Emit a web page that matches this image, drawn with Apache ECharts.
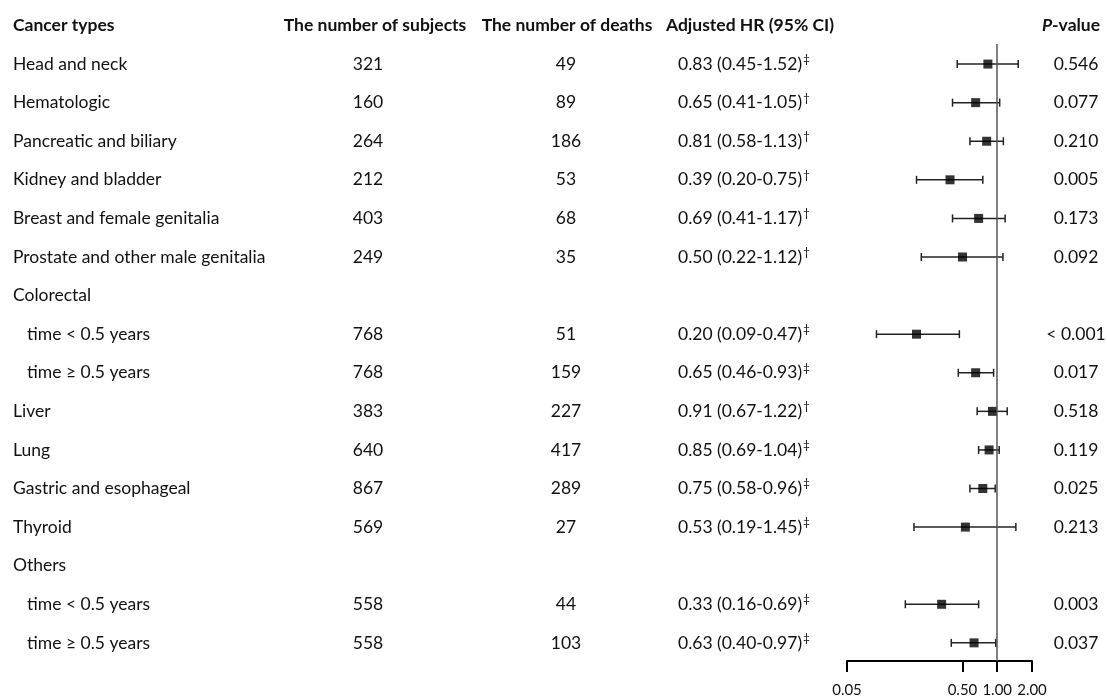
<!DOCTYPE html>
<html>
<head>
<meta charset="utf-8">
<script src="https://cdn.jsdelivr.net/npm/echarts@6/dist/echarts.min.js"></script>
<style>
  html, body { margin: 0; padding: 0; background: #fff; }
  #forestChart { width: 1107px; height: 698px; }
</style>
</head>
<body>
<div id="forestChart"></div>
<script>
  // table data, one entry per row (header excluded)
  const cancerTypes = ['Head and neck', 'Hematologic', 'Pancreatic and biliary', 'Kidney and bladder',
    'Breast and female genitalia', 'Prostate and other male genitalia', 'Colorectal',
    'time < 0.5 years', 'time ≥ 0.5 years', 'Liver', 'Lung', 'Gastric and esophageal', 'Thyroid',
    'Others', 'time < 0.5 years', 'time ≥ 0.5 years']
  const subRow = [0, 0, 0, 0, 0, 0, 0, 1, 1, 0, 0, 0, 0, 0, 1, 1]
  const subjects = ['321', '160', '264', '212', '403', '249', '', '768', '768', '383', '640', '867', '569', '', '558', '558']
  const deaths = ['49', '89', '186', '53', '68', '35', '', '51', '159', '227', '417', '289', '27', '', '44', '103']
  const hr = [0.83, 0.65, 0.81, 0.39, 0.69, 0.50, null, 0.20, 0.65, 0.91, 0.85, 0.75, 0.53, null, 0.33, 0.63]
  const ciLow = [0.45, 0.41, 0.58, 0.20, 0.41, 0.22, null, 0.09, 0.46, 0.67, 0.69, 0.58, 0.19, null, 0.16, 0.40]
  const ciHigh = [1.52, 1.05, 1.13, 0.75, 1.17, 1.12, null, 0.47, 0.93, 1.22, 1.04, 0.96, 1.45, null, 0.69, 0.97]
  const marks = ['‡', '†', '†', '†', '†', '†', '', '‡', '‡', '†', '‡', '‡', '‡', '', '‡', '‡']
  const pValues = ['0.546', '0.077', '0.210', '0.005', '0.173', '0.092', '', '< 0.001', '0.017', '0.518', '0.119', '0.025', '0.213', '', '0.003', '0.037']
  const xTicks = [0.05, 0.5, 1, 2]

  const FAMILY = 'Lato, "Liberation Sans", sans-serif'

  let chart = echarts.init(document.getElementById('forestChart'))

  let points = []
  let bars = []
  hr.forEach((v, i) => {
    if (v == null) return
    points.push([v, i + 1])
    bars.push([ciLow[i], i + 1, ciHigh[i]])
  })

  function renderBar(params, api) {
    let y = api.coord([1, api.value(1)])[1]
    let x0 = api.coord([api.value(0), api.value(1)])[0]
    let x1 = api.coord([api.value(2), api.value(1)])[0]
    let cap = 4
    let style = { stroke: '#222', lineWidth: 1.5 }
    return {
      type: 'group',
      children: [
        { type: 'line', shape: { x1: x0, y1: y, x2: x1, y2: y }, style: style },
        { type: 'line', shape: { x1: x0, y1: y - cap, x2: x0, y2: y + cap }, style: style },
        { type: 'line', shape: { x1: x1, y1: y - cap, x2: x1, y2: y + cap }, style: style }
      ]
    }
  }

  chart.setOption({
    animation: false,
    grid: { left: 847, right: 75, top: 44, bottom: 37 },
    xAxis: {
      type: 'log',
      logBase: 10,
      min: 0.05,
      max: 2,
      axisLine: { show: true, onZero: false, lineStyle: { color: '#000', width: 2 } },
      axisTick: { show: true, customValues: xTicks, length: 11, lineStyle: { color: '#000', width: 2 } },
      axisLabel: {
        customValues: xTicks,
        formatter: v => Number(v).toFixed(2),
        margin: 22,
        fontSize: 15,
        color: '#111',
        fontFamily: FAMILY
      },
      splitLine: { show: false }
    },
    yAxis: { type: 'value', inverse: true, min: 0.48, max: 16.47, show: false },
    series: [
      {
        type: 'custom',
        renderItem: renderBar,
        data: bars,
        encode: { x: [0, 2], y: 1 },
        z: 2
      },
      {
        type: 'scatter',
        data: points,
        symbol: 'rect',
        symbolSize: 9,
        itemStyle: { color: '#000' },
        z: 3,
        markLine: {
          silent: true,
          symbol: 'none',
          label: { show: false },
          lineStyle: { color: '#555', width: 1.5, type: 'solid' },
          data: [{ xAxis: 1 }]
        }
      }
    ]
  })

  // table text, placed on the same row scale as the plot
  const rowY = r => chart.convertToPixel({ yAxisIndex: 0 }, r)
  const bold = 'bold 17.5px ' + FAMILY
  const normal = '17.5px ' + FAMILY

  function txt(x, y, text, font, align, rich) {
    let style = { text: text, font: font, fill: '#111', align: align, verticalAlign: 'middle' }
    if (rich) {
      style.rich = rich
      style.lineHeight = 22
    }
    return { type: 'text', x: x, y: y, silent: true, style: style }
  }

  let texts = []
  let hy = rowY(0)
  texts.push(txt(13, hy, 'Cancer types', bold, 'left'))
  texts.push(txt(375, hy, 'The number of subjects', bold, 'center'))
  texts.push(txt(567, hy, 'The number of deaths', bold, 'center'))
  texts.push(txt(750, hy, 'Adjusted HR (95% CI)', bold, 'center'))
  texts.push(txt(1071, hy, '{i|P}-value', bold, 'center', { i: { font: 'italic bold 17.5px ' + FAMILY, lineHeight: 22 } }))

  cancerTypes.forEach((name, i) => {
    let y = rowY(i + 1)
    texts.push(txt(subRow[i] ? 27 : 13, y, name, normal, 'left'))
    if (subjects[i]) texts.push(txt(368, y, subjects[i], normal, 'center'))
    if (deaths[i]) texts.push(txt(566, y, deaths[i], normal, 'center'))
    if (hr[i] != null) {
      let s = hr[i].toFixed(2) + ' (' + ciLow[i].toFixed(2) + '-' + ciHigh[i].toFixed(2) + '){m|' + marks[i] + '}'
      texts.push(txt(744, y, s, normal, 'center', {
        m: { font: '12px ' + FAMILY, verticalAlign: 'top', lineHeight: 8, padding: [0, 0, 8, 1] }
      }))
    }
    if (pValues[i]) texts.push(txt(1076, y, pValues[i], normal, 'center'))
  })

  chart.setOption({ graphic: { elements: texts } })
</script>
</body>
</html>
